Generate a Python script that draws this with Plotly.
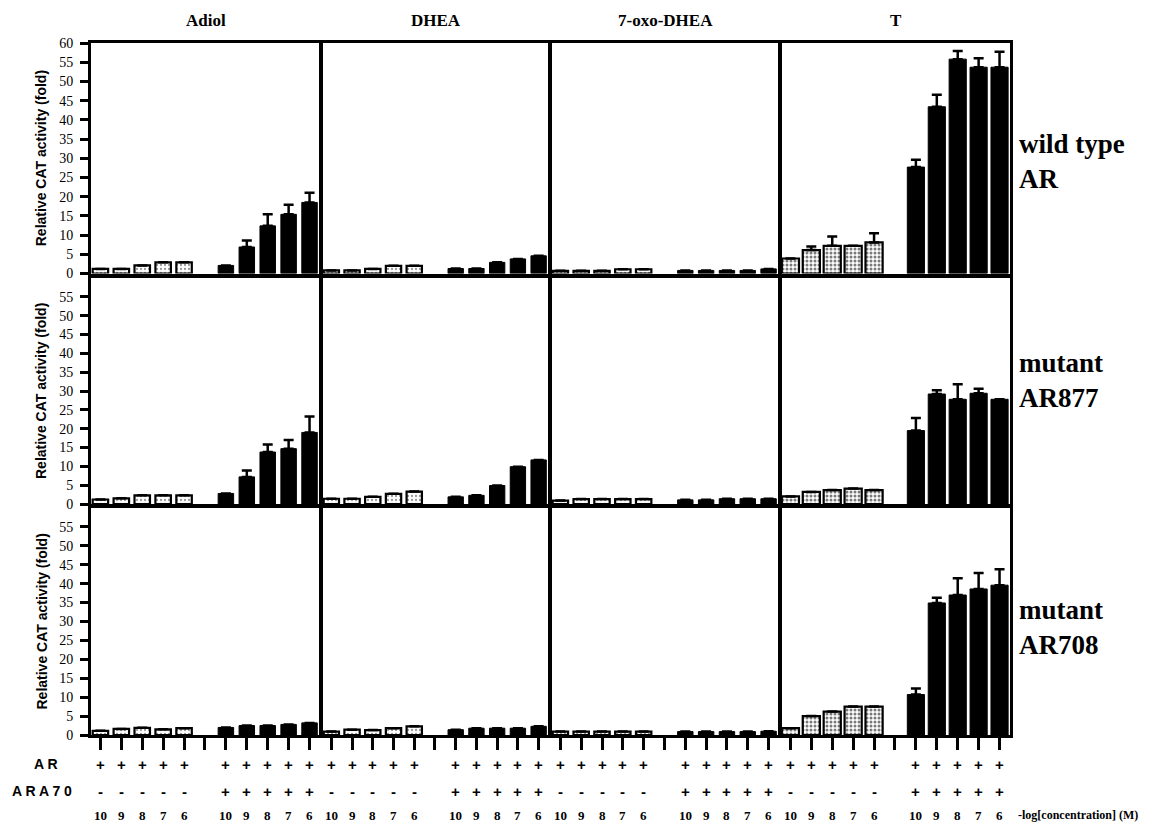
import plotly.graph_objects as go

# ---------------- data ----------------
compounds = ["Adiol", "DHEA", "7-oxo-DHEA", "T"]
receptors = ["wild type<br>AR", "mutant<br>AR877", "mutant<br>AR708"]
conc_labels = ["10", "9", "8", "7", "6"]
ar_row = ["+", "+", "+", "+", "+"]
ara70_minus = ["-", "-", "-", "-", "-"]
ara70_plus = ["+", "+", "+", "+", "+"]
y_ticks_top = [0, 5, 10, 15, 20, 25, 30, 35, 40, 45, 50, 55, 60]
y_ticks_low = [0, 5, 10, 15, 20, 25, 30, 35, 40, 45, 50, 55]

# wild type AR
wt_adiol_ar = [1.2, 1.2, 2.1, 2.9, 2.9]
wt_adiol_ara = [2.1, 6.9, 12.4, 15.4, 18.5]
wt_adiol_ara_err = [None, 1.7, 3.0, 2.5, 2.5]
wt_dhea_ar = [0.8, 0.8, 1.2, 2.0, 2.0]
wt_dhea_ara = [1.3, 1.3, 2.9, 3.8, 4.6]
wt_oxo_ar = [0.7, 0.7, 0.7, 1.1, 1.1]
wt_oxo_ara = [0.8, 0.8, 0.8, 0.8, 1.2]
wt_t_ar = [3.9, 6.1, 7.2, 7.2, 8.1]
wt_t_ar_err = [None, 0.9, 2.4, None, 2.4]
wt_t_ara = [27.7, 43.4, 55.8, 53.7, 53.7]
wt_t_ara_err = [1.9, 3.1, 2.1, 2.3, 4.0]

# mutant AR877
m877_adiol_ar = [1.2, 1.5, 2.3, 2.3, 2.3]
m877_adiol_ara = [2.8, 7.2, 13.8, 14.7, 19.0]
m877_adiol_ara_err = [None, 1.7, 2.0, 2.3, 4.2]
m877_dhea_ar = [1.4, 1.4, 1.9, 2.7, 3.3]
m877_dhea_ara = [1.9, 2.3, 4.9, 9.9, 11.7]
m877_oxo_ar = [0.9, 1.3, 1.3, 1.3, 1.3]
m877_oxo_ara = [1.1, 1.1, 1.4, 1.4, 1.4]
m877_t_ar = [2.0, 3.2, 3.7, 4.1, 3.7]
m877_t_ara = [19.5, 29.2, 27.8, 29.4, 27.8]
m877_t_ara_err = [3.3, 1.0, 4.0, 1.2, None]

# mutant AR708
m708_adiol_ar = [1.1, 1.6, 1.9, 1.5, 1.8]
m708_adiol_ara = [2.0, 2.5, 2.5, 2.8, 3.2]
m708_dhea_ar = [0.9, 1.4, 1.3, 1.8, 2.3]
m708_dhea_ara = [1.4, 1.8, 1.8, 1.8, 2.3]
m708_oxo_ar = [0.9, 0.9, 0.9, 0.9, 0.9]
m708_oxo_ara = [0.9, 0.9, 0.9, 0.9, 1.0]
m708_t_ar = [1.8, 5.0, 6.2, 7.5, 7.5]
m708_t_ara = [10.7, 34.9, 37.0, 38.6, 39.6]
m708_t_ara_err = [1.6, 1.4, 4.4, 4.2, 4.2]

none5 = [None, None, None, None, None]

panels = [
    [(wt_adiol_ar, none5, wt_adiol_ara, wt_adiol_ara_err),
     (wt_dhea_ar, none5, wt_dhea_ara, none5),
     (wt_oxo_ar, none5, wt_oxo_ara, none5),
     (wt_t_ar, wt_t_ar_err, wt_t_ara, wt_t_ara_err)],
    [(m877_adiol_ar, none5, m877_adiol_ara, m877_adiol_ara_err),
     (m877_dhea_ar, none5, m877_dhea_ara, none5),
     (m877_oxo_ar, none5, m877_oxo_ara, none5),
     (m877_t_ar, none5, m877_t_ara, m877_t_ara_err)],
    [(m708_adiol_ar, none5, m708_adiol_ara, none5),
     (m708_dhea_ar, none5, m708_dhea_ara, none5),
     (m708_oxo_ar, none5, m708_oxo_ara, none5),
     (m708_t_ar, none5, m708_t_ara, m708_t_ara_err)],
]

pos_open = [0, 1, 2, 3, 4]
pos_fill = [6, 7, 8, 9, 10]

# ---------------- layout geometry ----------------
W, H = 1150, 826
OFF = 8  # page body margin of the browser
col_px = [(91, 320), (322, 549), (551, 779), (781, 1010)]
row_px = [(43, 273.5), (278, 504), (508, 735)]


def px_x(p):
    return (p - OFF) / W


def px_y(p):
    return 1 - (p - OFF) / H


SERIF = "Liberation Serif"
SANS = "Liberation Sans"

fig = go.Figure()
layout = dict(
    template="none",
    width=W, height=H,
    margin=dict(l=0, r=0, t=0, b=0, pad=0, autoexpand=False),
    plot_bgcolor="white", paper_bgcolor="white",
    showlegend=False,
)

annotations = []

for r in range(3):
    for c in range(4):
        k = r * 4 + c + 1
        xa = "x" if k == 1 else f"x{k}"
        ya = "y" if k == 1 else f"y{k}"
        xk = "xaxis" if k == 1 else f"xaxis{k}"
        yk = "yaxis" if k == 1 else f"yaxis{k}"
        ar_vals, ar_err, ara_vals, ara_err = panels[r][c]
        bw = 0.82 if c == 3 else 0.74
        stipple_fg = "#7a7a7a" if c == 3 else "#9a9a9a"
        stipple_sol = 0.45 if c == 3 else 0.25
        fig.add_trace(go.Bar(
            x=pos_open, y=ar_vals, width=bw, xaxis=xa, yaxis=ya,
            marker=dict(color="white", line=dict(color="black", width=2.2),
                        pattern=dict(shape=".", fgcolor=stipple_fg, bgcolor="white",
                                     size=4, solidity=stipple_sol, fillmode="replace")),
            error_y=dict(type="data", array=ar_err, arrayminus=[0] * 5, symmetric=False,
                         color="black", thickness=2.5, width=5),
            hoverinfo="skip",
        ))
        fig.add_trace(go.Bar(
            x=pos_fill, y=ara_vals, width=bw, xaxis=xa, yaxis=ya,
            marker=dict(color="black", line=dict(color="black", width=1)),
            error_y=dict(type="data", array=ara_err, arrayminus=[0] * 5, symmetric=False,
                         color="black", thickness=2.5, width=5),
            hoverinfo="skip",
        ))
        x0, x1 = col_px[c]
        y0, y1 = row_px[r]
        xaxis = dict(
            domain=[px_x(x0), px_x(x1)], anchor=ya, range=[-0.45, 10.5],
            showline=True, mirror=True, linecolor="black", linewidth=3,
            showgrid=False, zeroline=False, showticklabels=False,
            fixedrange=True, automargin=False,
        )
        if r == 2:
            xaxis.update(ticks="outside", tickvals=list(range(11)), ticklen=12,
                         tickwidth=2.5, tickcolor="black")
        else:
            xaxis.update(ticks="")
        yaxis = dict(
            domain=[px_y(y1), px_y(y0)], anchor=xa, range=[0, 60],
            showline=True, mirror=True, linecolor="black", linewidth=3,
            showgrid=False, zeroline=False, fixedrange=True, automargin=False,
        )
        if c == 0:
            yaxis.update(ticks="outside", tickvals=y_ticks_top if r == 0 else y_ticks_low,
                         ticklen=8, tickwidth=2.5, tickcolor="black",
                         ticklabelstandoff=4,
                         tickfont=dict(family=SERIF, size=14, color="black"))
        else:
            yaxis.update(ticks="", showticklabels=False)
        layout[xk] = xaxis
        layout[yk] = yaxis

    # y axis title for each row
    yc = (row_px[r][0] + row_px[r][1]) / 2
    annotations.append(dict(
        text="Relative CAT activity (fold)", x=px_x(41), y=px_y(yc),
        xref="paper", yref="paper", showarrow=False, textangle=-90,
        font=dict(family=SANS, size=14, color="black", weight="bold"),
        xanchor="center", yanchor="middle",
    ))
    # receptor labels on the right
    annotations.append(dict(
        text=receptors[r], x=px_x(1017), y=px_y([161, 380, 627][r]),
        xref="paper", yref="paper", showarrow=False, align="left",
        font=dict(family=SERIF, size=27, color="black", weight="bold"),
        xanchor="left", yanchor="middle",
    ))

# column titles
for c in range(4):
    xc = (col_px[c][0] + col_px[c][1]) / 2
    annotations.append(dict(
        text=compounds[c], x=px_x(xc), y=px_y(9), xref="paper", yref="paper",
        showarrow=False, font=dict(family=SERIF, size=17, color="black", weight="bold"),
        xanchor="center", yanchor="top",
    ))

# bottom condition rows
for c in range(4):
    xa = f"x{9 + c}"
    for i in range(5):
        for pos, ar_txt, ara_txt in ((pos_open[i], ar_row[i], ara70_minus[i]),
                                     (pos_fill[i], ar_row[i], ara70_plus[i])):
            annotations.append(dict(
                text=ar_txt, x=pos, y=px_y(764), xref=xa, yref="paper", showarrow=False,
                font=dict(family=SANS, size=15, color="black", weight="bold"),
                xanchor="center", yanchor="middle"))
            annotations.append(dict(
                text=ara_txt, x=pos, y=px_y(791), xref=xa, yref="paper", showarrow=False,
                font=dict(family=SANS, size=15, color="black", weight="bold"),
                xanchor="center", yanchor="middle"))
            annotations.append(dict(
                text=conc_labels[i], x=pos, y=px_y(815), xref=xa, yref="paper", showarrow=False,
                font=dict(family=SERIF, size=13, color="black", weight="bold"),
                xanchor="center", yanchor="middle"))

annotations.append(dict(text="A R", x=px_x(46), y=px_y(764), xref="paper", yref="paper",
                        showarrow=False, font=dict(family=SANS, size=14, color="black", weight="bold"),
                        xanchor="center", yanchor="middle"))
annotations.append(dict(text="A R A 7 0", x=px_x(42), y=px_y(791), xref="paper", yref="paper",
                        showarrow=False, font=dict(family=SANS, size=14, color="black", weight="bold"),
                        xanchor="center", yanchor="middle"))
annotations.append(dict(text="-log[concentration] (M)", x=px_x(1016), y=px_y(815), xref="paper",
                        yref="paper", showarrow=False,
                        font=dict(family=SERIF, size=12, color="black", weight="bold"),
                        xanchor="left", yanchor="middle"))

layout["annotations"] = annotations
fig.update_layout(**layout)
fig.write_html("out.html")
